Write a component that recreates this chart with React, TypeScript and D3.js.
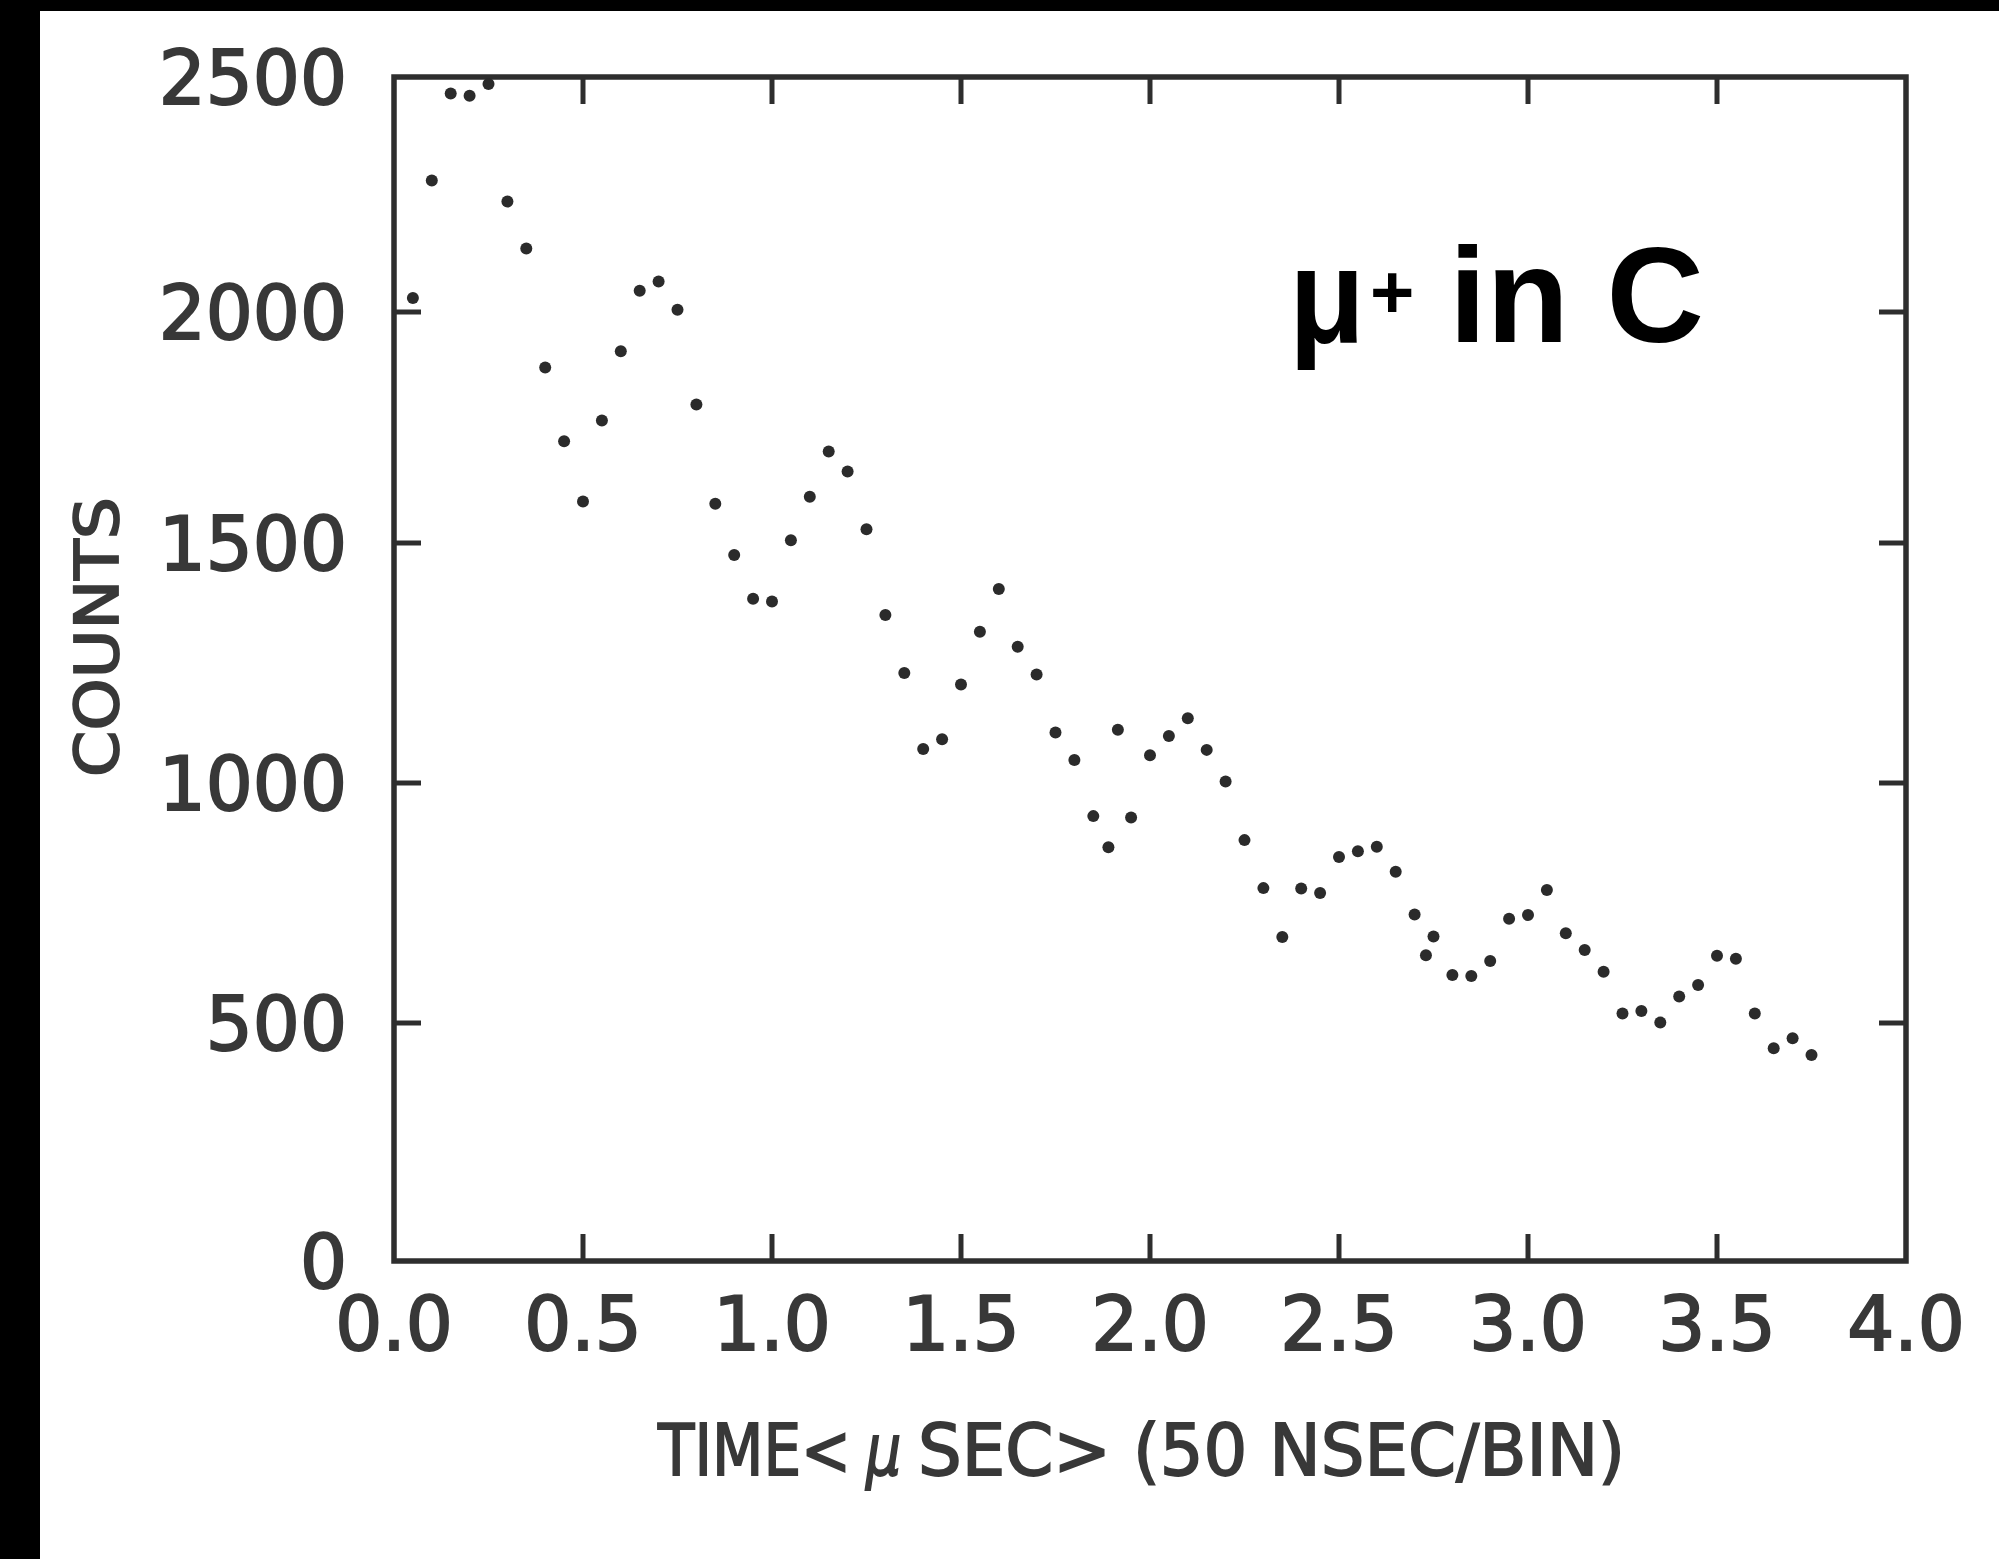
import React from "react";
import * as d3 from "d3";

// Time bins (µs) and counts
const times: number[] = [
  0.05, 0.1, 0.15, 0.2, 0.25, 0.3, 0.35, 0.4, 0.45, 0.5,
  0.55, 0.6, 0.65, 0.7, 0.75, 0.8, 0.85, 0.9, 0.95, 1.0,
  1.05, 1.1, 1.15, 1.2, 1.25, 1.3, 1.35, 1.4, 1.45, 1.5,
  1.55, 1.6, 1.65, 1.7, 1.75, 1.8, 1.85, 1.89, 1.915, 1.95,
  2.0, 2.05, 2.1, 2.15, 2.2, 2.25, 2.3, 2.35, 2.4, 2.45,
  2.5, 2.55, 2.6, 2.65, 2.7, 2.73, 2.75, 2.8, 2.85, 2.9,
  2.95, 3.0, 3.05, 3.1, 3.15, 3.2, 3.25, 3.3, 3.35, 3.4,
  3.45, 3.5, 3.55, 3.6, 3.65, 3.7, 3.75,
];
const counts: number[] = [
  2030, 2280, 2465, 2460, 2485, 2235, 2135, 1880, 1720, 1590,
  1765, 1915, 2045, 2065, 2005, 1800, 1585, 1475, 1384, 1378,
  1506, 1600, 1698, 1655, 1530, 1350, 1229, 1071, 1091, 1205,
  1315, 1404, 1284, 1226, 1105, 1048, 931, 866, 1111, 928,
  1058, 1098, 1135, 1069, 1003, 881, 781, 679, 780, 771,
  846, 858, 867, 815, 726, 641, 680, 600, 598, 629,
  717, 725, 777, 687, 652, 607, 520, 525, 501, 555,
  579, 640, 634, 520, 447, 468, 433,
];

const xTicks: number[] = [0, 0.5, 1.0, 1.5, 2.0, 2.5, 3.0, 3.5, 4.0];
const xTickLabels: string[] = ["0.0", "0.5", "1.0", "1.5", "2.0", "2.5", "3.0", "3.5", "4.0"];
const yTicks: number[] = [0, 500, 1000, 1500, 2000, 2500];
const yTickLabels: string[] = ["0", "500", "1000", "1500", "2000", "2500"];

const xTitleParts: string[] = ["TIME<", "μ", "SEC> (50 NSEC/BIN)"];
const yTitle = "COUNTS";

export default function App() {
  const W = 1999;
  const H = 1559;
  const x = d3.scaleLinear().domain([0, 4]).range([394, 1906]);
  // scanned axis is slightly non-uniform; polylinear scale follows the printed ticks
  const y = d3
    .scaleLinear()
    .domain([0, 500, 1000, 1500, 2000, 2500])
    .range([1261, 1023, 783, 543, 312, 77]);

  const ink = "#2e2e2e";
  const textInk = "#383838";
  const tickLen = 27;
  const x0 = x(0), x1 = x(4), y0 = y(0), y1 = y(2500);
  const innerX = xTicks.filter((t) => t > 0 && t < 4);
  const innerY = yTicks.filter((t) => t > 0 && t < 2500);
  const font = "'DejaVu Sans', sans-serif";

  return (
    <svg
      width={W}
      height={H}
      style={{ position: "absolute", left: 0, top: 0, display: "block", background: "#fff" }}
    >
      <rect x={0} y={0} width={W} height={H} fill="#fff" />
      <rect x={0} y={0} width={W} height={11} fill="#000" />
      <rect x={0} y={0} width={40} height={H} fill="#000" />

      {/* frame */}
      <rect
        x={x0}
        y={y1}
        width={x1 - x0}
        height={y0 - y1}
        fill="none"
        stroke={ink}
        strokeWidth={5.5}
      />
      {/* x ticks bottom and top (inward) */}
      {innerX.map((t) => (
        <g key={"xt" + t}>
          <line x1={x(t)} x2={x(t)} y1={y0} y2={y0 - tickLen} stroke={ink} strokeWidth={5} />
          <line x1={x(t)} x2={x(t)} y1={y1} y2={y1 + tickLen} stroke={ink} strokeWidth={5} />
        </g>
      ))}
      {/* y ticks left and right (inward) */}
      {innerY.map((v) => (
        <g key={"yt" + v}>
          <line x1={x0} x2={x0 + tickLen} y1={y(v)} y2={y(v)} stroke={ink} strokeWidth={5} />
          <line x1={x1} x2={x1 - tickLen} y1={y(v)} y2={y(v)} stroke={ink} strokeWidth={5} />
        </g>
      ))}

      {/* tick labels */}
      <g fontFamily={font} fontSize={74} fill={textInk} stroke={textInk} strokeWidth={2}>
        {xTicks.map((t, i) => (
          <text key={"xl" + t} x={x(t)} y={1350} textAnchor="middle">
            {xTickLabels[i]}
          </text>
        ))}
        {yTicks.map((v, i) => (
          <text key={"yl" + v} x={347} y={y(v) + 27} textAnchor="end">
            {yTickLabels[i]}
          </text>
        ))}
      </g>

      {/* axis titles */}
      <g fontFamily={font} fontSize={71} fill={textInk} stroke={textInk} strokeWidth={1.8}>
        <text transform="translate(658,1475) scale(0.84,1)">{xTitleParts[0]}</text>
        <text transform="translate(866,1475) scale(0.78,1)" fontStyle="italic">
          {xTitleParts[1]}
        </text>
        <text transform="translate(918,1475) scale(0.97,1)">{xTitleParts[2]}</text>
      </g>
      <text
        transform="translate(118,637) rotate(-90)"
        textAnchor="middle"
        fontFamily={font}
        fontSize={60}
        fill={textInk}
        stroke={textInk}
        strokeWidth={1.8}
        textLength={280}
        lengthAdjust="spacingAndGlyphs"
      >
        {yTitle}
      </text>

      {/* annotation */}
      <g fontFamily="'Liberation Sans', Arial, sans-serif" fontWeight="bold" fill="#000">
        <text x={1289} y={342} fontSize={135} textLength={76} lengthAdjust="spacingAndGlyphs">
          μ
        </text>
        <text x={1370} y={318} fontSize={76}>
          +
        </text>
        <text x={1449} y={342} fontSize={135}>
          in C
        </text>
      </g>

      {/* data points */}
      {times.map((t, i) => (
        <circle key={"p" + i} cx={x(t)} cy={y(counts[i])} r={6} fill="#2b2b2b" />
      ))}
    </svg>
  );
}
